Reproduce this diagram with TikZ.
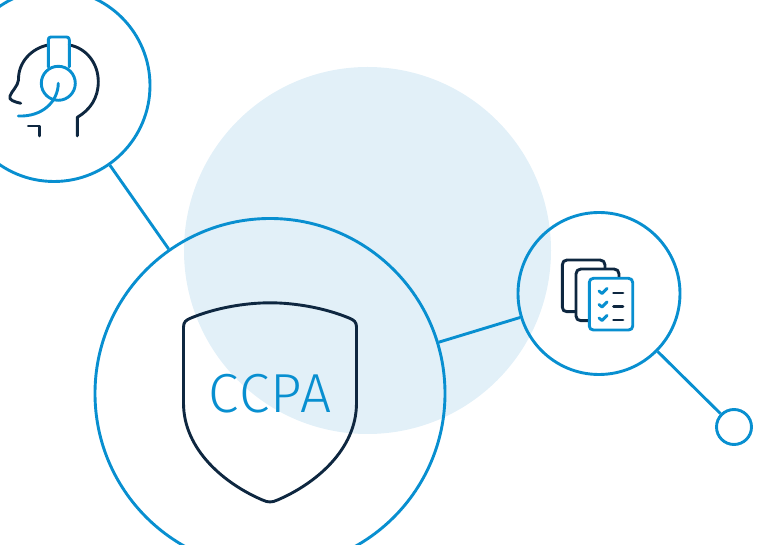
\documentclass[tikz,border=0pt]{standalone}
\usepackage{fontspec}
\newfontfamily\badgefont[LetterSpace=3]{Fira Sans Light}
\usepackage{tikz}
\usetikzlibrary{calc}
\definecolor{cBlue}{RGB}{8,143,208}
\definecolor{cDark}{RGB}{14,39,64}
\definecolor{cPale}{RGB}{226,240,248}
\tikzset{
  blob/.style={circle, fill=cPale, inner sep=0pt, minimum size=367pt},
  ring/.style={circle, draw=cBlue, line width=2.9pt, inner sep=0pt},
  link/.style={draw=cBlue, line width=2.9pt},
  inkline/.style={draw=cDark, line width=2.9pt, line cap=round, line join=round},
  blueline/.style={draw=cBlue, line width=2.9pt, line cap=round, line join=round},
  badgetext/.style={text=cBlue, inner sep=0pt, font=\badgefont\fontsize{55}{55}\selectfont}
}
\begin{document}
\begin{tikzpicture}[x=1pt, y=-1pt]

  \useasboundingbox (0,0) rectangle (769,545);
  \clip (0,0) rectangle (769,545);

  \node[blob] (backdrop) at (367.5,250.5) {};

  % ── Rings ──
  \node[ring, minimum size=192pt] (agent) at (54,85.5) {};
  \node[ring, minimum size=350pt] (main) at (270,393.5) {};
  \node[ring, minimum size=162pt] (docs) at (599,293.5) {};
  \node[ring, minimum size=35pt] (endpoint) at (734,427) {};

  \draw[link] (agent) -- (main);
  \draw[link] (main) -- (docs);
  \draw[link] (docs) -- (endpoint);

  % ── Shield ──
  \draw[inkline] (183.5,403) -- (183.5,327) .. controls (183.5,322) and (186,320) .. (191,318)
      .. controls (215,308) and (245,302.8) .. (270,302.8)
      .. controls (295,302.8) and (325,308) .. (349,318)
      .. controls (354,320) and (356.5,322) .. (356.5,327) -- (356.5,403)
      .. controls (356.5,450) and (315,484) .. (277.5,500)
      .. controls (272,502.6) and (268,502.6) .. (262.5,500)
      .. controls (225,484) and (183.5,450) .. (183.5,403) -- cycle;
  \node[badgetext] (badge) at (270,393.5) {CCPA};

  % ── Headset ──
  \draw[inkline] (20.7,103.3) .. controls (15,102) and (8,100) .. (10,96)
      .. controls (11,92) and (18,86) .. (18.5,80)
      .. controls (18,62) and (32,48) .. (48.3,45);
  \draw[inkline] (69.3,45) .. controls (86,48) and (98.3,63) .. (98.3,81.7)
      .. controls (98.3,98) and (90,110) .. (77.3,117.3) -- (77.3,136);
  \draw[inkline] (28.3,126) -- (39.3,126) -- (39.3,136);
  \draw[blueline] (48.3,67) -- (48.3,40)
      .. controls (48.3,38) and (49,37) .. (51,37) -- (66.5,37)
      .. controls (68.5,37) and (69.3,38) .. (69.3,40) -- (69.3,67);
  \node[ring, minimum size=34pt] (earcup) at (58.3,83.3) {};
  \draw[blueline] (58.3,83.3) .. controls (58,102) and (42,117) .. (18.3,116);

  % ── Documents ──
  \draw[inkline] (575,311.7) -- (567,311.7) .. controls (564,311.7) and (562.3,310) .. (562.3,307)
      -- (562.3,265) .. controls (562.3,262) and (564,260) .. (567,260)
      -- (600,260) .. controls (603,260) and (605,262) .. (605,265) -- (605,268);
  \draw[inkline] (588,320.7) -- (581,320.7) .. controls (578,320.7) and (576,319) .. (576,316)
      -- (576,274) .. controls (576,271) and (578,269) .. (581,269)
      -- (614,269) .. controls (617,269) and (619,271) .. (619,274) -- (619,277);
  \draw[blueline] (593.5,278.3) -- (628.5,278.3) .. controls (631,278.3) and (632.7,280) .. (632.7,282.5)
      -- (632.7,326) .. controls (632.7,328.5) and (631,330) .. (628.5,330)
      -- (593.5,330) .. controls (591,330) and (589.3,328.5) .. (589.3,326)
      -- (589.3,282.5) .. controls (589.3,280) and (591,278.3) .. (593.5,278.3) -- cycle;
  \foreach \rowy in {291,304.5,318} {
    \draw[blueline] (599,\rowy) -- (602,\rowy+2.5) -- (607,\rowy-2.5);
    \draw[inkline] (613.5,\rowy+2) -- (623,\rowy+2);
  }

\end{tikzpicture}
\end{document}
